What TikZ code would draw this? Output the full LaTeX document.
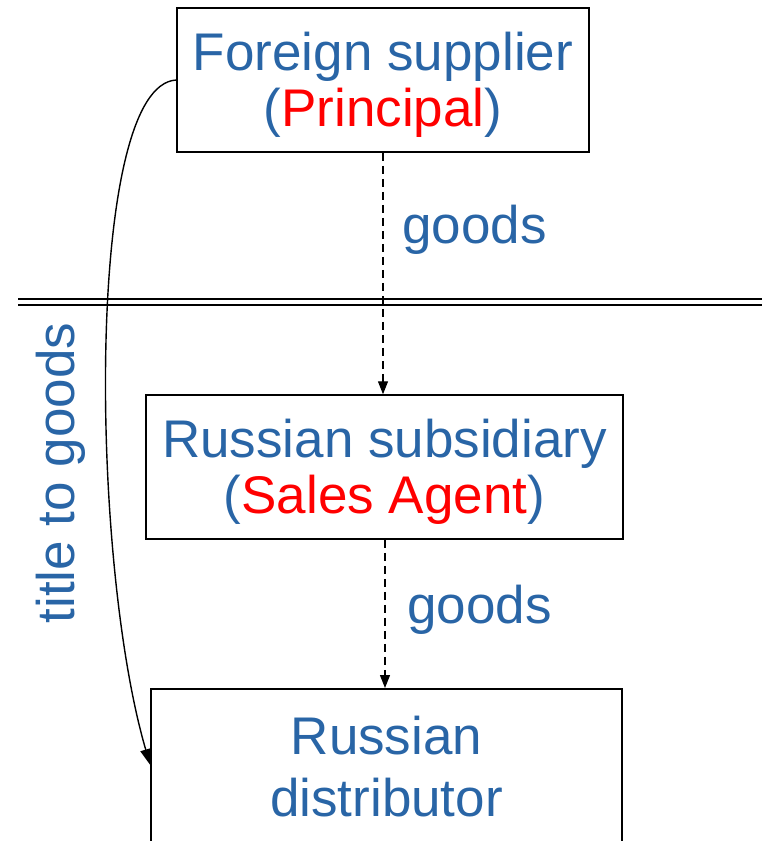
\documentclass[tikz,border=0pt]{standalone}
\usepackage{fontspec}
\setmainfont{Liberation Sans}
\usetikzlibrary{arrows.meta}
\definecolor{tblue}{RGB}{41,101,166}
\definecolor{tred}{RGB}{255,0,0}
\begin{document}
\begin{tikzpicture}[x=1pt,y=-1pt,
  bigfont/.style={font=\fontsize{53}{56}\selectfont},
  box/.style={draw,line width=1.5pt,inner sep=0pt},
  lbl/.style={text=tblue,inner sep=0pt,bigfont,align=center},
  flow/.style={line width=1.2pt,dash pattern=on 8pt off 5pt,-{Triangle[length=13pt,width=10pt]}},
  titleflow/.style={line width=1.4pt,-{Triangle[length=16pt,width=11pt]}},
  sepline/.style={line width=2.4pt}]
\useasboundingbox (0,0) rectangle (762,841);
\clip (0,0) rectangle (762,841);
\node[box,minimum width=412pt,minimum height=144pt] (sup) at (383,80) {};
\node[lbl] (suptext) at (383,85) {Foreign supplier\\(\textcolor{tred}{Principal})};
\node[box,minimum width=477pt,minimum height=144pt] (sub) at (384.5,467) {};
\node[lbl] (subtext) at (384.5,472) {Russian subsidiary\\(\textcolor{tred}{Sales Agent})};
\node[box,minimum width=471pt,minimum height=180pt,anchor=north] (dist) at (386.5,688) {};
\node[lbl,font=\fontsize{53}{62}\selectfont] (disttext) at (386.5,767) {Russian\\distributor};
\coordinate (sepL1) at (18,299);
\coordinate (sepR1) at (762,299);
\coordinate (sepL2) at (18,305);
\coordinate (sepR2) at (762,305);
\draw[sepline] (sepL1) -- (sepR1);
\draw[sepline] (sepL2) -- (sepR2);
\draw[flow] (sup.south -| 383,0) -- (sub.north -| 383,0);
\draw[flow] (sub.south -| 385,0) -- (dist.north -| 385,0);
\node[lbl,anchor=base west] (goods1) at (402,243) {goods};
\node[lbl,anchor=base west] (goods2) at (407,623) {goods};
\draw[titleflow] (sup.west |- 0,80) .. controls (85,85) and (90,560) .. (dist.west |- 0,765);
\node[lbl,rotate=90,anchor=base] (title) at (74,473) {title to goods};
\end{tikzpicture}
\end{document}
